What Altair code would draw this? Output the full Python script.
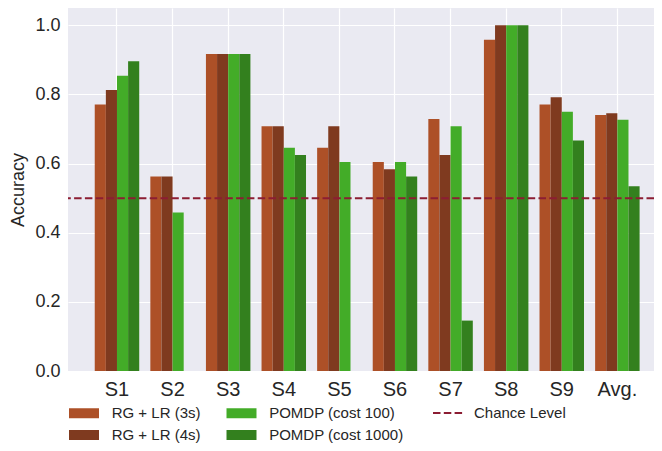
import altair as alt
import pandas as pd

subjects = ["S1", "S2", "S3", "S4", "S5", "S6", "S7", "S8", "S9", "Avg."]
rg_lr_3s = [0.771, 0.5625, 0.9167, 0.7083, 0.6458, 0.6042, 0.7292, 0.9583, 0.7708, 0.7407]
rg_lr_4s = [0.8125, 0.5625, 0.9167, 0.7083, 0.7083, 0.5833, 0.625, 1.0, 0.7917, 0.7454]
pomdp_100 = [0.8542, 0.4583, 0.9167, 0.6458, 0.6042, 0.6042, 0.7083, 1.0, 0.75, 0.7269]
pomdp_1000 = [0.8958, 0.0, 0.9167, 0.625, 0.0, 0.5625, 0.1458, 1.0, 0.6667, 0.5347]
chance_level = 0.5

series_names = ["RG + LR (3s)", "RG + LR (4s)", "POMDP (cost 100)", "POMDP (cost 1000)"]
series_values = [rg_lr_3s, rg_lr_4s, pomdp_100, pomdp_1000]
series_colors = ["#AD5027", "#7F3A1F", "#43AC28", "#33801E"]

rows = []
for name, vals in zip(series_names, series_values):
    for s, v in zip(subjects, vals):
        rows.append({"subject": s, "method": name, "accuracy": v})
df = pd.DataFrame(rows)

FONT = "Liberation Sans"
TXT = "#262626"

bars = alt.Chart(df).mark_bar().encode(
    x=alt.X("subject:N", sort=subjects,
            scale=alt.Scale(paddingInner=0.2, paddingOuter=0.37, align=0.65),
            axis=alt.Axis(title=None, labelAngle=0, labelFontSize=20, labelPadding=8,
                          labelColor=TXT, labelFont=FONT, domain=False, ticks=False,
                          grid=True, gridColor="white", gridWidth=1.2, bandPosition=0.5)),
    xOffset=alt.XOffset("method:N", sort=series_names,
                        scale=alt.Scale(domain=series_names, paddingInner=0, paddingOuter=0)),
    y=alt.Y("accuracy:Q", scale=alt.Scale(domain=[0, 1.05], nice=False, zero=True),
            axis=alt.Axis(title="Accuracy", values=[0, 0.2, 0.4, 0.6, 0.8, 1.0], format=".1f",
                          labelFontSize=18, labelPadding=8, labelColor=TXT, labelFont=FONT,
                          domain=False, ticks=False, grid=True, gridColor="white", gridWidth=1.2,
                          titleFontSize=18, titleFontWeight="normal", titleColor=TXT,
                          titleFont=FONT, titleX=-50, titleY=181.5, titleAlign="center",
                          titleBaseline="middle")),
    fill=alt.Fill("method:N",
                  scale=alt.Scale(domain=series_names, range=series_colors),
                  legend=alt.Legend(title=None, orient="none", legendX=1, legendY=397.5,
                                    columns=2, columnPadding=25.5, rowPadding=6,
                                    symbolType="M-1.5,-1H4.5V1H-1.5Z", symbolSize=100,
                                    symbolStrokeWidth=0, symbolOpacity=1,
                                    labelFontSize=15, labelFont=FONT, labelColor=TXT,
                                    labelOffset=27.7, padding=0)),
)

rule = alt.Chart(pd.DataFrame({"level": [chance_level], "name": ["Chance Level"]})).mark_rule(
    strokeWidth=2, strokeDash=[7.5, 3.3]
).encode(
    y="level:Q",
    stroke=alt.Stroke("name:N", scale=alt.Scale(domain=["Chance Level"], range=["#8C1D33"]),
                      legend=alt.Legend(title=None, orient="none", legendX=364, legendY=389,
                                        symbolType="stroke", symbolSize=900,
                                        symbolStrokeWidth=2, symbolDash=[7.5, 3.3],
                                        labelFontSize=15, labelFont=FONT, labelColor=TXT,
                                        labelOffset=10, padding=0)),
)

chart = alt.layer(bars, rule).properties(
    width=586, height=363,
    autosize=alt.AutoSizeParams(type="none"),
    padding={"left": 60, "top": 0, "right": 0, "bottom": 72},
    background="white",
).configure_view(fill="#EAEAF2", stroke=None).resolve_scale(fill="independent", stroke="independent")

chart.save("out.html", embed_options={"renderer": "svg", "actions": False})
